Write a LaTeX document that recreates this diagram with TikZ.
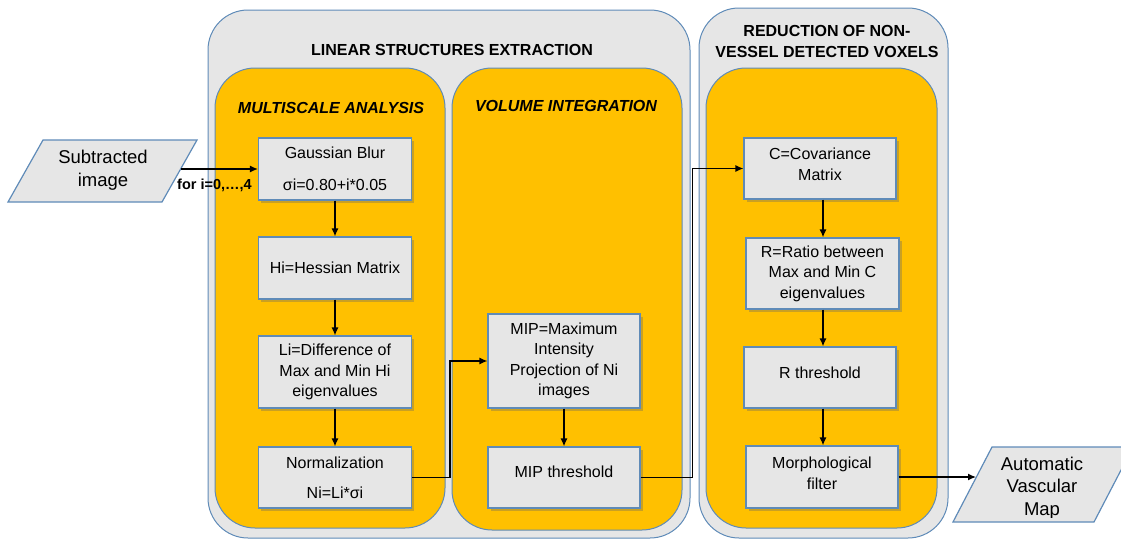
\documentclass[tikz,border=0pt]{standalone}
\usepackage{fontspec}
\setmainfont{Liberation Sans}
\usetikzlibrary{shadows,arrows.meta}
\definecolor{panelgray}{HTML}{E6E6E6}
\definecolor{edgeblue}{HTML}{5F8BB8}
\definecolor{amber}{HTML}{FFC000}
\tikzset{
  stage/.style={draw=edgeblue, fill=panelgray, rounded corners=40pt, line width=1pt},
  phase/.style={draw=edgeblue, fill=amber, rounded corners=40pt, line width=1pt},
  stepbox/.style={draw=edgeblue, fill=panelgray, line width=1.2pt, inner sep=0pt,
    align=center, font=\fontsize{16}{20.5}\selectfont,
    drop shadow={shadow xshift=2.5pt, shadow yshift=-2.5pt, opacity=0.35, fill=black!60}},
  iobox/.style={draw=edgeblue, fill=panelgray, line width=1.2pt},
  iotext/.style={align=center, font=\fontsize{18.5}{22.5}\selectfont, inner sep=0pt},
  flow/.style={-{Latex[length=8pt,width=7pt]}, line width=1.3pt, black},
  heading/.style={font=\bfseries\fontsize{16}{21}\selectfont, align=center, inner sep=0pt},
  subheading/.style={font=\bfseries\itshape\fontsize{16}{20}\selectfont, inner sep=0pt},
  looplabel/.style={font=\bfseries\fontsize{14.5}{17}\selectfont, inner sep=0pt}
}
\begin{document}
\begin{tikzpicture}[x=1pt, y=-1pt]
\useasboundingbox (0,0) rectangle (1121,541);
\clip (0,0) rectangle (1121,541);

% stage containers
\draw[stage] (208,10) rectangle (690,538);
\draw[stage] (699,8) rectangle (948,538);
\node[heading] (t1) at (452,50) {LINEAR STRUCTURES EXTRACTION};
\node[heading] (t2) at (827,41) {REDUCTION OF NON-\\VESSEL DETECTED VOXELS};

% phase containers
\draw[phase] (215,68) rectangle (445,528);
\draw[phase] (452,68) rectangle (682,530);
\draw[phase] (706,68) rectangle (937,528);
\node[subheading] (p1) at (331,108) {MULTISCALE ANALYSIS};
\node[subheading] (p2) at (566,106) {VOLUME INTEGRATION};

% input
\draw[iobox] (43,140) -- (197,140) -- (162,202) -- (8,202) -- cycle;
\node[iotext] (sub) at (103,170) {Subtracted\\image};
\coordinate (subR) at (181,169);

% multiscale analysis column
\node[stepbox, minimum width=153pt, minimum height=62pt] (gb) at (335,169)
  {Gaussian Blur\\[11.5pt]σi=0.80+i*0.05};
\node[stepbox, minimum width=153pt, minimum height=62pt] (hm) at (335,268)
  {Hi=Hessian Matrix};
\node[stepbox, minimum width=153pt, minimum height=72pt] (ld) at (335,372)
  {Li=Difference of\\Max and Min Hi\\eigenvalues};
\node[stepbox, minimum width=153pt, minimum height=61pt] (nr) at (335,477.5)
  {Normalization\\[9.5pt]Ni=Li*σi};

% volume integration column
\node[stepbox, minimum width=152pt, minimum height=94pt] (mip) at (564,361)
  {MIP=Maximum\\Intensity\\Projection of Ni\\images};
\node[stepbox, minimum width=152pt, minimum height=61pt, text depth=12pt] (mt) at (564,477.5)
  {MIP threshold};

% reduction column
\coordinate (colx) at (823,0);
\node[stepbox, minimum width=152pt, minimum height=61pt, text depth=9pt] (cov) at (820,168.5)
  {C=Covariance\\Matrix};
\node[stepbox, minimum width=153pt, minimum height=71pt] (rr) at (822.5,273.5)
  {R=Ratio between\\Max and Min C\\eigenvalues};
\node[stepbox, minimum width=152pt, minimum height=61pt, text depth=10pt] (rt) at (820,377.5)
  {R threshold};
\node[stepbox, minimum width=152pt, minimum height=62pt, text depth=8pt] (mf) at (822,477)
  {Morphological\\filter};

% output
\draw[iobox] (992,447) -- (1133,447) -- (1094,522) -- (953,522) -- cycle;
\coordinate (autoL) at (976,477);
\begin{scope}
  \clip (940,440) rectangle (1121,517);
  \node[iotext] (auto) at (1042,488) {Automatic\\Vascular\\Map};
\end{scope}

% connectors
\draw[flow] (subR) -- (gb.west);
\node[looplabel, anchor=west] (loop) at (177,185) {for i=0,…,4};
\draw[flow] (gb) -- (hm);
\draw[flow] (hm) -- (ld);
\draw[flow] (ld) -- (nr);
\draw[flow] (nr.east) -- ++(38,0) |- (mip.west);
\draw[flow] (mip) -- (mt);
\draw[flow] (mt.east) -- ++(52,0) |- (cov.west);
\draw[flow] (cov.south -| colx) -- (rr.north -| colx);
\draw[flow] (rr.south -| colx) -- (rt.north -| colx);
\draw[flow] (rt.south -| colx) -- (mf.north -| colx);
\draw[flow] (mf.east) -- (autoL);
\end{tikzpicture}
\end{document}
